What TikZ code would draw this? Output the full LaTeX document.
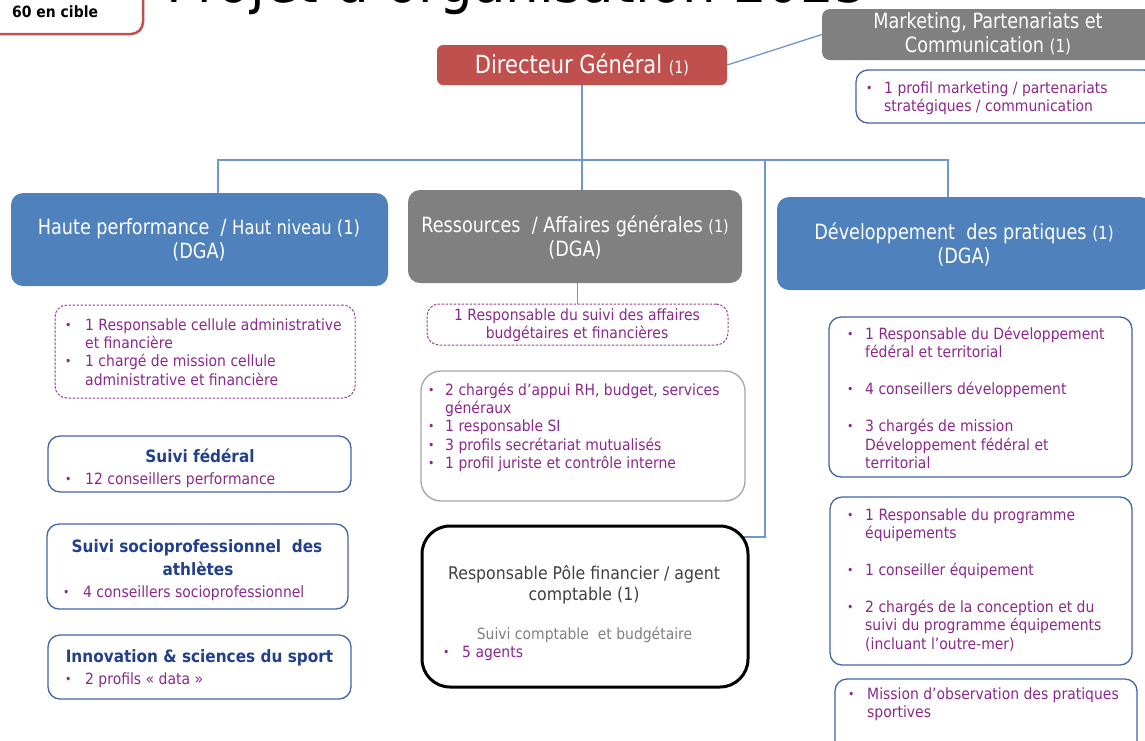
\documentclass[tikz,border=0pt]{standalone}
\usepackage{fontspec}
\setmainfont{DejaVu Sans}[FakeStretch=0.9]
\newfontfamily\hfont{DejaVu Sans}[FakeStretch=0.84]
\usetikzlibrary{fit,backgrounds}
\definecolor{dgred}{RGB}{192,80,77}
\definecolor{hgray}{RGB}{128,128,128}
\definecolor{hblue}{RGB}{79,129,189}
\definecolor{lnblue}{RGB}{112,150,207}
\definecolor{purp}{RGB}{140,40,140}
\definecolor{dpurp}{RGB}{150,70,150}
\definecolor{bxblue}{RGB}{65,100,170}
\definecolor{ttblue}{RGB}{35,64,140}
\definecolor{lgray}{RGB}{166,166,166}
\definecolor{dgray}{RGB}{64,64,64}
\definecolor{mgray}{RGB}{128,128,128}
\newlength\bind
\newcommand\bulsym{\raisebox{0.1ex}{\fontsize{12}{12}\selectfont\textbullet}}
\newcommand\bitem[1]{\par\hangindent=\bind\hangafter=1\noindent\makebox[\bind][l]{\bulsym}#1\par}
\newcommand\bodyf{\fontsize{15.5}{18.4}\selectfont}
\newcommand\gapl{\vspace{18.5pt}}
\begin{document}
\begin{tikzpicture}[x=1pt,y=-1pt,
  conn/.style={draw=lnblue, line width=1.3pt},
  hdr/.style={inner sep=0pt, rounded corners=12pt},
  hdrtxt/.style={inner sep=0pt, anchor=center, text=white, align=center, font=\hfont\fontsize{21}{24}\selectfont},
  subbox/.style={inner sep=0pt, draw=bxblue, line width=1.3pt, rounded corners=12pt, fill=white},
  dashbox/.style={inner sep=0pt, draw=dpurp, line width=1pt, dash pattern=on 2.5pt off 1.5pt, rounded corners=12pt, fill=white},
  lst/.style={inner sep=0pt, anchor=base west, text=purp},
  ttl/.style={inner sep=0pt, anchor=base, text=ttblue, font=\bfseries\fontsize{17}{23}\selectfont},
]
\useasboundingbox (0,0) rectangle (1145,740);
\clip (0,0) rectangle (1145,740);

% top-left tag and title
\node[draw=dgred, line width=2.5pt, rounded corners=12pt, inner sep=0pt, fit={(-40,-40) (143,34)}] (cible) {};
\node[inner sep=0pt, anchor=base west, font=\bfseries\fontsize{15.5}{18}\selectfont] (cibletxt) at (12,17.8) {60 en cible};
\node[inner sep=0pt, anchor=base west, font=\fontsize{59}{60}\selectfont] (title) at (166,2) {Projet d’organisation 2025};

% top level
\node[hdr, fill=dgred, rounded corners=6pt, fit={(437,45) (727,85)}] (dg) {};
\node[hdrtxt, font=\hfont\fontsize{25}{28}\selectfont] (dgt) at (dg.center) {Directeur Général {\fontsize{17}{24}\selectfont(1)}};
\node[hdr, fill=hgray, rounded corners=8pt, fit={(822,9) (1156,60)}] (mk) {};
\node[hdrtxt] (mkt) at (988,34) {Marketing, Partenariats et\\Communication {\fontsize{18}{24}\selectfont(1)}};
\node[subbox, fit={(856,70) (1156,123)}] (mkb) {};
\node[lst] (mkl) at (866,93) {\parbox[t]{300pt}{\bodyf\setlength\bind{18pt}%
  \bitem{1 profil marketing / partenariats\newline stratégiques / communication}}};

% DGA headers
\node[hdr, fill=hblue, fit={(11,193) (388,286)}] (hp) {};
\node[hdrtxt] (hpt) at (199,240) {Haute performance\ \ / {\fontsize{19.5}{24}\selectfont Haut niveau (1)}\\(DGA)};
\node[hdr, fill=hgray, fit={(408,190) (742,283)}] (res) {};
\node[hdrtxt] (rest) at (575,237.5) {Ressources\ \ / Affaires générales {\fontsize{17}{24}\selectfont(1)}\\(DGA)};
\node[hdr, fill=hblue, fit={(777,197) (1152,290)}] (dev) {};
\node[hdrtxt] (devt) at (964,244.5) {Développement\ \ des pratiques {\fontsize{18}{24}\selectfont(1)}\\(DGA)};

% left column
\node[dashbox, fit={(55,305) (355,398)}] (hpa) {};
\node[lst] (hpat) at (65,330) {\parbox[t]{300pt}{\bodyf\setlength\bind{20pt}%
  \bitem{1 Responsable cellule administrative\newline et financière}%
  \bitem{1 chargé de mission cellule\newline administrative et financière}}};

\node[subbox, fit={(48,436) (351,492)}] (sf) {};
\node[ttl] (sft) at (200,462) {Suivi fédéral};
\node[lst] (sfl) at (65,484) {\parbox[t]{300pt}{\bodyf\setlength\bind{20pt}\bitem{12 conseillers performance}}};

\node[subbox, fit={(47,524) (348,609)}] (so) {};
\node[ttl] (sot1) at (197,552) {Suivi socioprofessionnel\ \ des};
\node[ttl] (sot2) at (198,575) {athlètes};
\node[lst] (sol) at (63,597) {\parbox[t]{300pt}{\bodyf\setlength\bind{20pt}\bitem{4 conseillers socioprofessionnel}}};

\node[subbox, fit={(48,635) (351,699)}] (inn) {};
\node[ttl] (innt) at (199.5,662) {Innovation \& sciences du sport};
\node[lst] (innl) at (65,684) {\parbox[t]{300pt}{\bodyf\setlength\bind{20pt}\bitem{2 profils «~data~»}}};

% middle column
\node[dashbox, fit={(427,304) (728,345)}] (rsa) {};
\node[inner sep=0pt, anchor=base, text=purp, font=\bodyf] (rsa1) at (577,320) {1 Responsable du suivi des affaires};
\node[inner sep=0pt, anchor=base, text=purp, font=\bodyf] (rsa2) at (577,338) {budgétaires et financières};

\node[inner sep=0pt, draw=lgray, line width=1.3pt, rounded corners=20pt, fill=white, fit={(421,371) (745,501)}] (rh) {};
\node[lst] (rht) at (428,395) {\parbox[t]{330pt}{\bodyf\setlength\bind{17pt}%
  \bitem{2 chargés d’appui RH, budget, services\newline généraux}%
  \bitem{1 responsable SI}%
  \bitem{3 profils secrétariat mutualisés}%
  \bitem{1 profil juriste et contrôle interne}}};

\node[inner sep=0pt, draw=black, line width=3pt, rounded corners=28pt, fill=white, fit={(422,526) (748,687)}] (pf) {};
\node[inner sep=0pt, anchor=base, text=dgray, font=\fontsize{17.5}{22}\selectfont] (pft1) at (584,579) {Responsable Pôle financier / agent};
\node[inner sep=0pt, anchor=base, text=dgray, font=\fontsize{17.5}{22}\selectfont] (pft2) at (584,600) {comptable (1)};
\node[inner sep=0pt, anchor=base, text=mgray, font=\bodyf] (pft3) at (584.5,639) {Suivi comptable\ \ et budgétaire};
\node[lst] (pfl) at (443,657) {\parbox[t]{300pt}{\bodyf\setlength\bind{19pt}\bitem{5 agents}}};

% right column
\node[subbox, fit={(829,317) (1132,477)}] (dv1) {};
\node[lst] (dv1t) at (847,339.5) {\parbox[t]{300pt}{\bodyf\setlength\bind{18pt}%
  \bitem{1 Responsable du Développement\newline fédéral et territorial}\gapl
  \bitem{4 conseillers développement}\gapl
  \bitem{3 chargés de mission\newline Développement fédéral et\newline territorial}}};

\node[subbox, fit={(830,497) (1132,665)}] (dv2) {};
\node[lst] (dv2t) at (847,520) {\parbox[t]{300pt}{\bodyf\setlength\bind{18pt}%
  \bitem{1 Responsable du programme\newline équipements}\gapl
  \bitem{1 conseiller équipement}\gapl
  \bitem{2 chargés de la conception et du\newline suivi du programme équipements\newline (incluant l’outre-mer)}}};

\node[subbox, fit={(835,679) (1137,770)}] (dv3) {};
\node[lst] (dv3t) at (848,699) {\parbox[t]{300pt}{\bodyf\setlength\bind{19pt}%
  \bitem{Mission d’observation des pratiques\newline sportives}}};

% connectors
\coordinate (busL) at (218,160);
\coordinate (busM) at (765,160);
\coordinate (busR) at (948,160);
\coordinate (pfj) at (765,537);
\begin{scope}[on background layer]
\fill[white] (0,0) rectangle (1145,740);
\draw[conn] (dg.east) -- (mk.west);
\draw[conn] (dg.south) -- (dg.south |- res.north);
\draw[conn] (busL |- hp.north) -- (busL) -- (busR) -- (busR |- dev.north);
\draw[conn] (busM) -- (pfj) -- (pfj -| pf.center);
\draw[conn] (rsa.north) -- (rsa.north |- res.south);
\end{scope}
\end{tikzpicture}
\end{document}
